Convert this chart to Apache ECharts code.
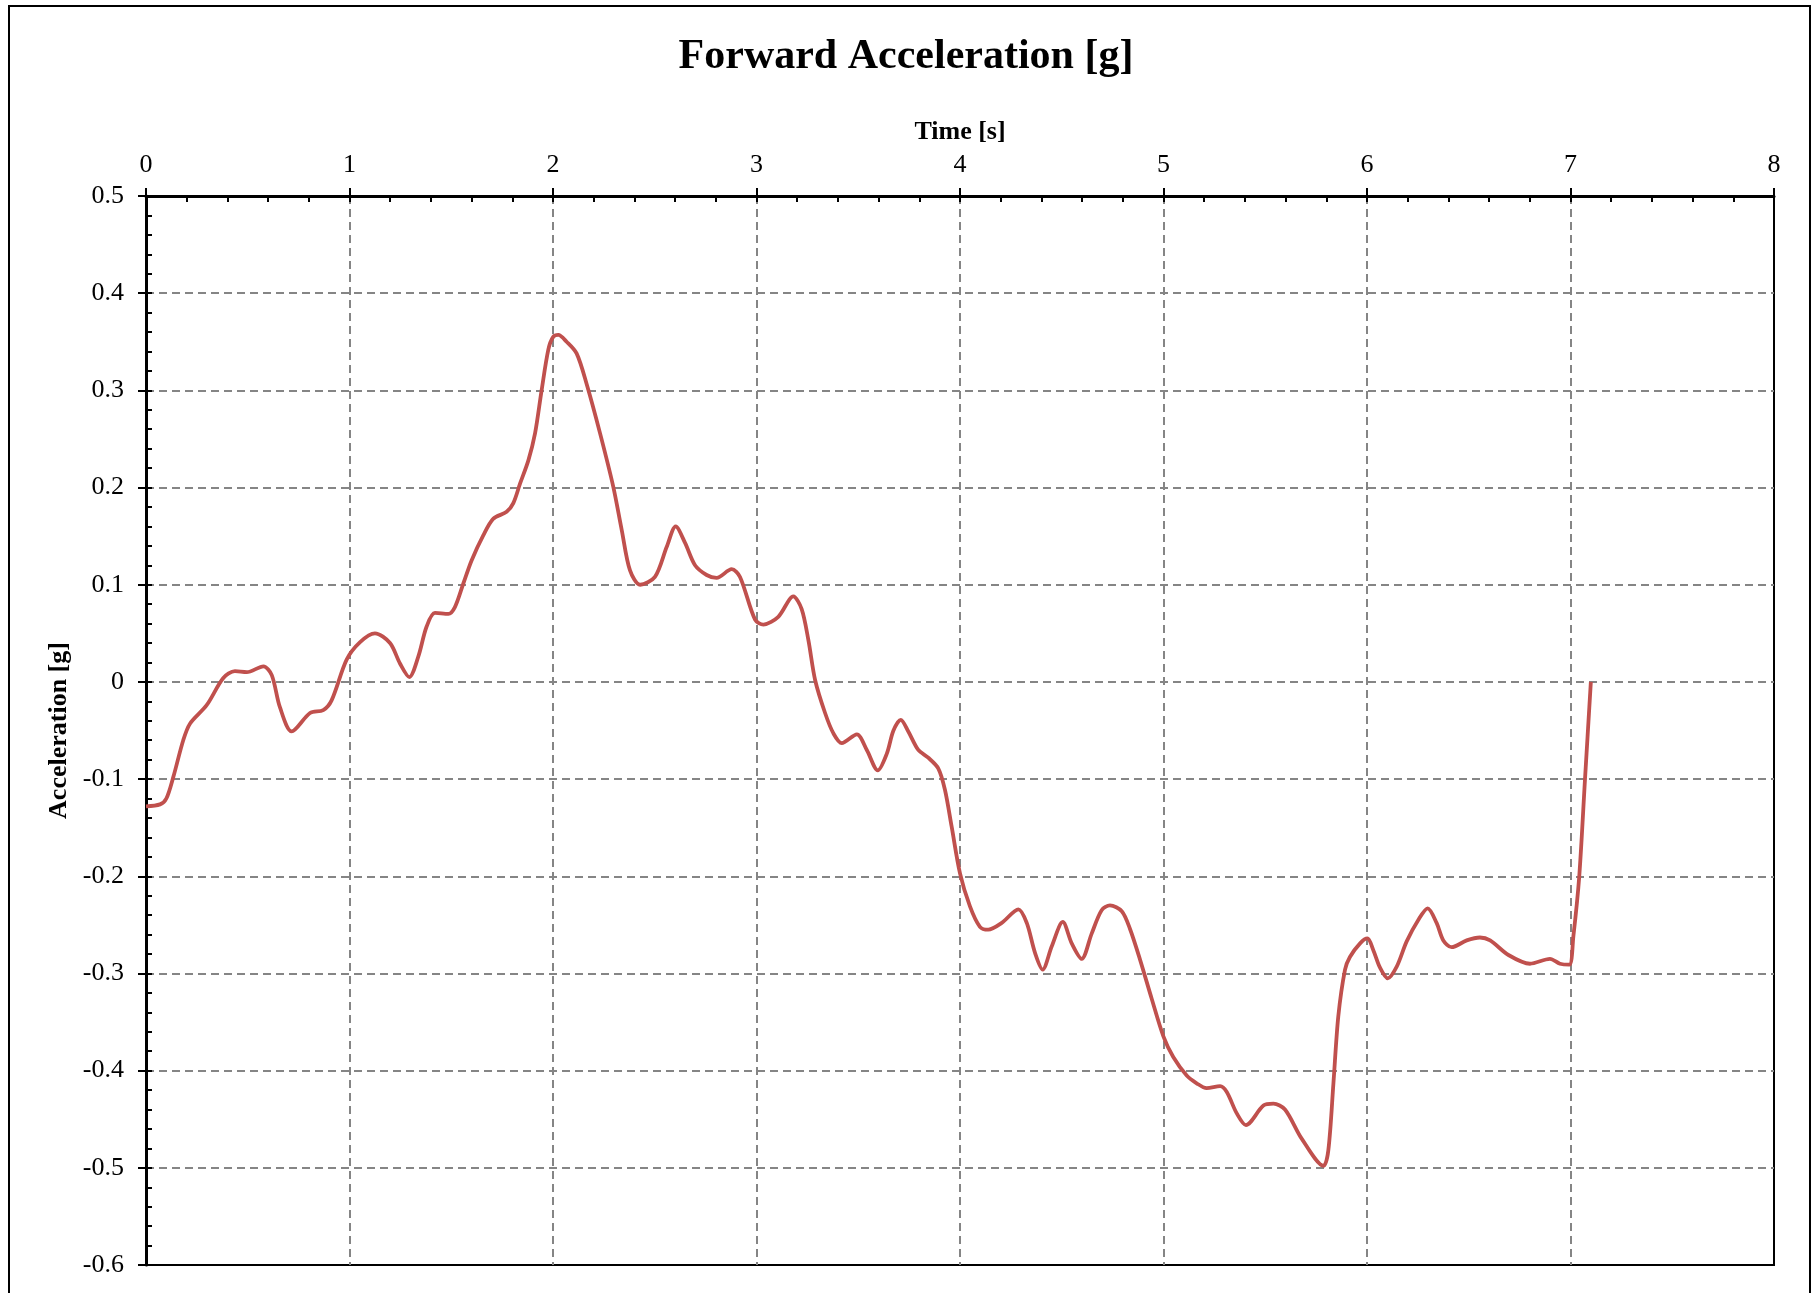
<!DOCTYPE html>
<html>
<head>
<meta charset="utf-8">
<title>Forward Acceleration [g]</title>
<script src="https://cdn.jsdelivr.net/npm/echarts@6/dist/echarts.min.js"></script>
<style>
  html, body { margin: 0; padding: 0; background: #ffffff; }
  #chart { width: 1812px; height: 1293px; }
</style>
</head>
<body>
<div id="chart"></div>
<script>
// Logged forward acceleration over the run
const timeSeconds = [
  0.000, 0.069, 0.100, 0.134, 0.183, 0.216, 0.298, 0.380, 0.437, 0.495,
  0.577, 0.618, 0.658, 0.716, 0.806, 0.871, 0.912, 0.986, 1.052, 1.125,
  1.199, 1.248, 1.294, 1.338, 1.379, 1.420, 1.486, 1.518, 1.559, 1.600,
  1.658, 1.707, 1.772, 1.805, 1.838, 1.879, 1.912, 1.944, 1.977, 2.001,
  2.026, 2.067, 2.116, 2.166, 2.231, 2.296, 2.338, 2.378, 2.428, 2.501,
  2.559, 2.603, 2.649, 2.698, 2.755, 2.804, 2.878, 2.919, 2.993, 3.034,
  3.107, 3.181, 3.222, 3.255, 3.288, 3.337, 3.378, 3.419, 3.493, 3.542,
  3.596, 3.640, 3.673, 3.709, 3.746, 3.795, 3.844, 3.893, 3.926, 3.959,
  4.000, 4.049, 4.098, 4.139, 4.205, 4.287, 4.328, 4.369, 4.406, 4.451,
  4.505, 4.549, 4.598, 4.647, 4.696, 4.737, 4.795, 4.835, 4.885, 4.942,
  5.000, 5.048, 5.114, 5.163, 5.212, 5.278, 5.311, 5.360, 5.405, 5.491,
  5.540, 5.597, 5.679, 5.786, 5.810, 5.835, 5.859, 5.892, 5.916, 5.966,
  6.002, 6.031, 6.064, 6.102, 6.146, 6.195, 6.252, 6.298, 6.342, 6.375,
  6.416, 6.490, 6.555, 6.605, 6.695, 6.801, 6.899, 6.948, 6.994, 7.014,
  7.043, 7.071, 7.100
];

const accelG = [
  -0.128, -0.126, -0.120, -0.098, -0.060, -0.043, -0.024, 0.004, 0.011, 0.010,
  0.016, 0.007, -0.026, -0.051, -0.032, -0.029, -0.019, 0.023, 0.041, 0.050,
  0.040, 0.019, 0.005, 0.026, 0.057, 0.071, 0.070, 0.077, 0.101, 0.125,
  0.151, 0.168, 0.175, 0.184, 0.204, 0.228, 0.256, 0.300, 0.342, 0.355,
  0.357, 0.350, 0.338, 0.306, 0.256, 0.201, 0.156, 0.115, 0.100, 0.108,
  0.139, 0.160, 0.143, 0.120, 0.110, 0.107, 0.116, 0.108, 0.064, 0.059,
  0.067, 0.088, 0.075, 0.043, 0.002, -0.032, -0.053, -0.063, -0.054, -0.070,
  -0.091, -0.074, -0.050, -0.039, -0.051, -0.070, -0.078, -0.089, -0.111, -0.149,
  -0.197, -0.231, -0.252, -0.255, -0.248, -0.234, -0.248, -0.279, -0.296, -0.272,
  -0.247, -0.269, -0.285, -0.259, -0.235, -0.230, -0.236, -0.254, -0.286, -0.326,
  -0.365, -0.386, -0.405, -0.413, -0.418, -0.416, -0.422, -0.444, -0.456, -0.436,
  -0.434, -0.440, -0.470, -0.498, -0.482, -0.413, -0.344, -0.296, -0.283, -0.269,
  -0.264, -0.276, -0.294, -0.305, -0.293, -0.267, -0.245, -0.233, -0.248, -0.266,
  -0.273, -0.266, -0.263, -0.266, -0.281, -0.290, -0.285, -0.290, -0.291, -0.262,
  -0.200, -0.101, 0.000
];

// Axis ranges and steps
const timeRange = { min: 0, max: 8, major: 1, minor: 0.2 };
const accelRange = { min: -0.6, max: 0.5, major: 0.1, minor: 0.02 };

const FONT = "'Liberation Serif', 'Times New Roman', serif";
const INK = '#000000';
const GRID_LINE = { color: '#858585', width: 2, type: [8, 5] };

const points = timeSeconds.map((t, i) => [t, accelG[i]]);

const chart = echarts.init(document.getElementById('chart'), null, { renderer: 'canvas' });

chart.setOption({
  backgroundColor: '#ffffff',
  animation: false,
  title: {
    text: 'Forward Acceleration [g]',
    left: 'center',
    top: 31,
    textStyle: { fontFamily: FONT, fontSize: 42, fontWeight: 'bold', color: INK }
  },
  graphic: [{
    type: 'rect',
    shape: { x: 9, y: 6, width: 1801, height: 1320 },
    style: { fill: 'none', stroke: INK, lineWidth: 2 },
    silent: true,
    z: -1
  }],
  grid: {
    left: 146, right: 38, top: 196, bottom: 28,
    show: true,
    borderColor: INK,
    borderWidth: 2,
    backgroundColor: 'transparent'
  },
  xAxis: [
    {
      // labelled axis with major ticks and vertical grid
      type: 'value',
      position: 'top',
      min: timeRange.min, max: timeRange.max, interval: timeRange.major,
      name: 'Time [s]',
      nameLocation: 'middle',
      nameGap: 51,
      nameTextStyle: { fontFamily: FONT, fontSize: 26, fontWeight: 'bold', color: INK },
      axisLine: { show: true, onZero: false, lineStyle: { color: INK, width: 3 } },
      axisTick: { show: true, inside: false, length: 8, lineStyle: { color: INK, width: 2 } },
      axisLabel: { show: true, margin: 18, fontFamily: FONT, fontSize: 26, color: INK, showMinLabel: true, showMaxLabel: true },
      splitLine: { show: true, showMinLine: false, showMaxLine: false, lineStyle: GRID_LINE }
    },
    {
      // inner minor ticks
      type: 'value',
      position: 'top',
      offset: 0,
      min: timeRange.min, max: timeRange.max, interval: timeRange.minor,
      axisLine: { show: false, onZero: false },
      axisTick: { show: true, inside: true, length: 6, lineStyle: { color: INK, width: 2 } },
      axisLabel: { show: false },
      splitLine: { show: false }
    }
  ],
  yAxis: [
    {
      type: 'value',
      position: 'left',
      min: accelRange.min, max: accelRange.max, interval: accelRange.major,
      name: 'Acceleration [g]',
      nameLocation: 'middle',
      nameGap: 72,
      nameTextStyle: { fontFamily: FONT, fontSize: 26, fontWeight: 'bold', color: INK },
      axisLine: { show: true, onZero: false, lineStyle: { color: INK, width: 3 } },
      axisTick: { show: true, inside: false, length: 8, lineStyle: { color: INK, width: 2 } },
      axisLabel: {
        show: true, margin: 22, fontFamily: FONT, fontSize: 26, color: INK,
        showMinLabel: true, showMaxLabel: true,
        formatter: v => String(Math.round(v * 10) / 10)
      },
      splitLine: { show: true, showMinLine: false, showMaxLine: false, lineStyle: GRID_LINE }
    },
    {
      type: 'value',
      position: 'left',
      offset: 0,
      min: accelRange.min, max: accelRange.max, interval: accelRange.minor,
      axisLine: { show: false, onZero: false },
      axisTick: { show: true, inside: true, length: 6, lineStyle: { color: INK, width: 2 } },
      axisLabel: { show: false },
      splitLine: { show: false }
    }
  ],
  series: [{
    type: 'line',
    xAxisIndex: 0,
    yAxisIndex: 0,
    data: points,
    showSymbol: false,
    smooth: 0.3,
    lineStyle: { color: '#C0504D', width: 3.8 },
    z: 5
  }]
});
</script>
</body>
</html>
